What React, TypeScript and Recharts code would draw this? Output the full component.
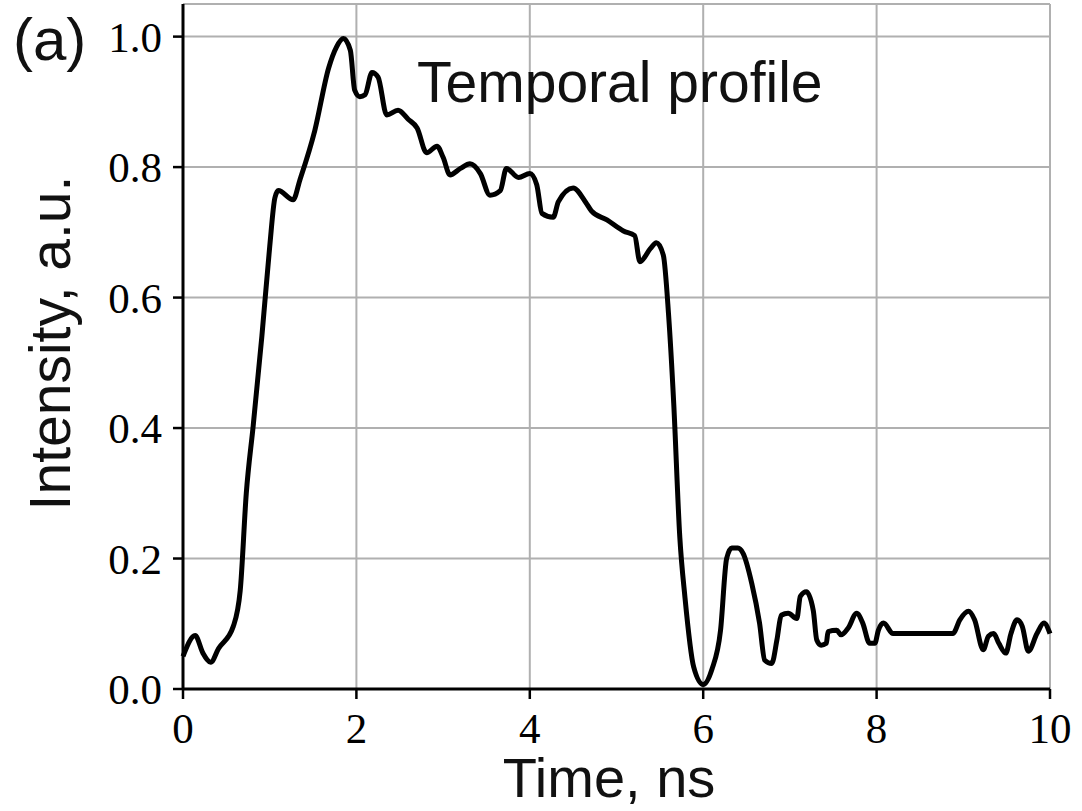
import { LineChart, Line, XAxis, YAxis, CartesianGrid } from "recharts";

const TIME_NS = [
  0.0, 0.14, 0.23, 0.32, 0.41, 0.58, 0.66, 0.73, 0.81, 0.91, 1.0, 1.06, 1.1,
  1.27, 1.35, 1.52, 1.68, 1.77, 1.85, 1.93, 1.98, 2.04, 2.1, 2.18, 2.25, 2.35,
  2.48, 2.6, 2.7, 2.81, 2.93, 3.0, 3.08, 3.2, 3.31, 3.43, 3.54, 3.66, 3.73,
  3.87, 4.0, 4.08, 4.14, 4.27, 4.33, 4.5, 4.64, 4.71, 4.89, 5.08, 5.21, 5.27,
  5.39, 5.46, 5.54, 5.6, 5.66, 5.73, 5.79, 5.89, 6.0, 6.1, 6.2, 6.27, 6.33,
  6.4, 6.46, 6.56, 6.65, 6.71, 6.79, 6.85, 6.9, 6.98, 7.08, 7.12, 7.19, 7.27,
  7.31, 7.36, 7.42, 7.44, 7.54, 7.59, 7.67, 7.77, 7.84, 7.92, 7.98, 8.02, 8.08,
  8.19, 8.88, 8.96, 9.06, 9.13, 9.23, 9.29, 9.35, 9.41, 9.49, 9.55, 9.62, 9.68,
  9.75, 9.85, 9.93, 10.0,
];

const INTENSITY = [
  0.05, 0.082, 0.055, 0.041, 0.062, 0.096, 0.151, 0.3, 0.404, 0.541, 0.678,
  0.753, 0.764, 0.75, 0.781, 0.856, 0.952, 0.984, 0.997, 0.979, 0.918, 0.908,
  0.911, 0.945, 0.938, 0.88, 0.887, 0.873, 0.86, 0.822, 0.832, 0.815, 0.788,
  0.798, 0.805, 0.79, 0.757, 0.764, 0.798, 0.784, 0.79, 0.773, 0.729, 0.723,
  0.747, 0.768, 0.747, 0.733, 0.719, 0.702, 0.695, 0.655, 0.675, 0.684, 0.665,
  0.575, 0.438, 0.233, 0.14, 0.034, 0.007, 0.03, 0.09, 0.2, 0.216, 0.216,
  0.208, 0.162, 0.101, 0.044, 0.039, 0.075, 0.113, 0.116, 0.108, 0.142, 0.149,
  0.12, 0.075, 0.067, 0.07, 0.088, 0.09, 0.083, 0.093, 0.116, 0.101, 0.07,
  0.07, 0.09, 0.101, 0.085, 0.085, 0.106, 0.119, 0.106, 0.06, 0.081, 0.085,
  0.07, 0.055, 0.085, 0.106, 0.096, 0.058, 0.085, 0.101, 0.085,
];

const X_TICKS = [0, 2, 4, 6, 8, 10];
const Y_TICKS = [0, 0.2, 0.4, 0.6, 0.8, 1.0];

const W = 1082;
const H = 811;

const SERIF = "'Liberation Serif', 'DejaVu Serif', serif";
const SANS = "'Liberation Sans', Arial, sans-serif";

export default function App() {
  const data = TIME_NS.map((t, i) => ({ t, v: INTENSITY[i] }));
  const tick = { fill: "#000", fontSize: 43, fontFamily: SERIF };
  const axisLine = { stroke: "#000", strokeWidth: 3 };
  const tickLine = { stroke: "#000", strokeWidth: 2.5 };

  return (
    <div style={{ position: "absolute", left: 0, top: 0, width: W, height: H, background: "#fff" }}>
      <LineChart width={W} height={H} data={data} margin={{ top: 4, right: 32, bottom: 0, left: 0 }}>
        <CartesianGrid stroke="#b0b0b0" strokeWidth={2} />
        <XAxis
          dataKey="t"
          type="number"
          domain={[0, 10]}
          ticks={X_TICKS}
          height={122}
          tick={tick}
          tickSize={10}
          tickMargin={13}
          axisLine={axisLine}
          tickLine={tickLine}
        />
        <XAxis
          xAxisId="top"
          orientation="top"
          dataKey="t"
          type="number"
          domain={[0, 10]}
          height={0}
          tick={false}
          tickLine={false}
          axisLine={axisLine}
        />
        <YAxis
          type="number"
          domain={[0, 1.05]}
          ticks={Y_TICKS}
          width={183}
          tick={tick}
          tickFormatter={(v: number) => v.toFixed(1)}
          tickSize={10}
          tickMargin={11}
          axisLine={axisLine}
          tickLine={tickLine}
        />
        <YAxis
          yAxisId="right"
          orientation="right"
          type="number"
          domain={[0, 1.05]}
          width={0}
          tick={false}
          tickLine={false}
          axisLine={axisLine}
        />
        <Line
          type="monotone"
          dataKey="v"
          stroke="#000"
          strokeWidth={5}
          dot={false}
          isAnimationActive={false}
        />
      </LineChart>
      <svg
        width={W}
        height={H}
        style={{ position: "absolute", left: 0, top: 0, pointerEvents: "none" }}
      >
        <g fontFamily={SANS} fill="#111">
          <text x={13} y={60} fontSize={60}>(a)</text>
          <text x={417} y={102} fontSize={57}>Temporal profile</text>
          <text x={609} y={797} fontSize={56} textAnchor="middle">Time, ns</text>
          <text x={70} y={343} fontSize={57} textAnchor="middle" transform="rotate(-90 70 343)">
            Intensity, a.u.
          </text>
        </g>
      </svg>
    </div>
  );
}
